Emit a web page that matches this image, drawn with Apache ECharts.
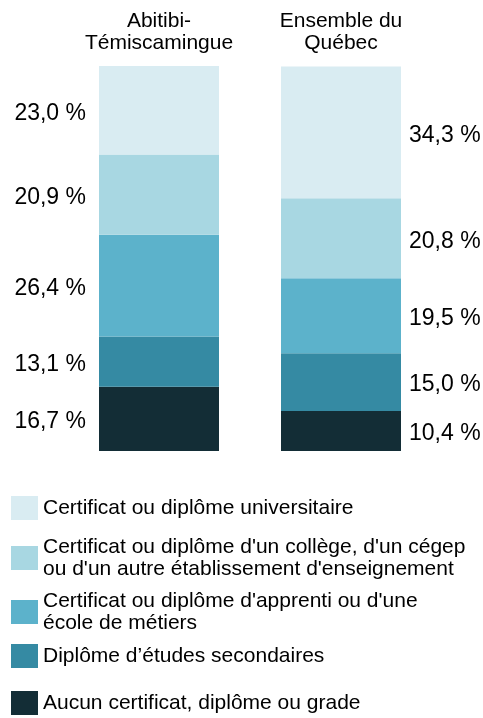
<!DOCTYPE html>
<html>
<head>
<meta charset="utf-8">
<script src="https://cdn.jsdelivr.net/npm/echarts@6/dist/echarts.min.js"></script>
<style>
  html, body { margin: 0; padding: 0; background: #fff; }
  #main { width: 483px; height: 718px; }
</style>
</head>
<body>
<div id="main"></div>
<script>
// régions comparées
var regions = ['Abitibi-\nTémiscamingue', 'Ensemble du\nQuébec'];

// niveaux de scolarité, du bas vers le haut de la pile
var niveaux = [
  'Aucun certificat, diplôme ou grade',
  'Diplôme d’études secondaires',
  "Certificat ou diplôme d'apprenti ou d'une école de métiers",
  "Certificat ou diplôme d'un collège, d'un cégep ou d'un autre établissement d'enseignement",
  'Certificat ou diplôme universitaire'
];
var niveauxLegende = [
  'Aucun certificat, diplôme ou grade',
  'Diplôme d’études secondaires',
  "Certificat ou diplôme d'apprenti ou d'une\nécole de métiers",
  "Certificat ou diplôme d'un collège, d'un cégep\nou d'un autre établissement d'enseignement",
  'Certificat ou diplôme universitaire'
];

// pourcentages [Abitibi-Témiscamingue, Ensemble du Québec]
var aucun = [16.7, 10.4];
var secondaire = [13.1, 15.0];
var apprenti = [26.4, 19.5];
var college = [20.9, 20.8];
var universitaire = [23.0, 34.3];

var valeurs = [aucun, secondaire, apprenti, college, universitaire];
var couleurs = ['#132d36', '#358aa3', '#5cb2cb', '#a8d7e2', '#d9ecf2'];

var police = 'Liberation Sans, Arial, sans-serif';

function pct(v) {
  return v.toFixed(1).replace('.', ',') + ' %';
}

var series = niveaux.map(function (nom, i) {
  return {
    name: nom,
    type: 'bar',
    stack: 'total',
    barWidth: 120,
    itemStyle: { color: couleurs[i] },
    data: valeurs[i].map(function (v, j) {
      return {
        value: v,
        label: {
          show: true,
          position: j === 0 ? 'left' : 'right',
          distance: j === 0 ? 13 : 8,
          offset: [0, 3],
          formatter: function (p) { return pct(p.value); },
          color: '#000',
          fontSize: 23,
          fontFamily: police
        }
      };
    })
  };
});

// une légende par élément, du haut vers le bas
var legendTops = [496, 536, 590, 644, 691];
var legends = [4, 3, 2, 1, 0].map(function (i, k) {
  return {
    data: [niveaux[i]],
    left: 11,
    top: legendTops[k],
    padding: 0,
    icon: 'rect',
    itemWidth: 27,
    itemHeight: 24,
    selectedMode: false,
    formatter: function () { return niveauxLegende[i]; },
    textStyle: { fontSize: 21, lineHeight: 22, color: '#000', fontFamily: police }
  };
});

var myChart = echarts.init(document.getElementById('main'));
myChart.setOption({
  animation: false,
  backgroundColor: '#fff',
  grid: { left: 68, width: 364, top: 66, height: 385 },
  xAxis: {
    type: 'category',
    position: 'top',
    data: regions,
    axisLine: { show: false },
    axisTick: { show: false },
    axisLabel: {
      interval: 0,
      margin: 12,
      fontSize: 21,
      lineHeight: 22,
      color: '#000',
      fontFamily: police
    }
  },
  yAxis: {
    type: 'value',
    min: 0,
    max: 100.1,
    show: false
  },
  legend: legends,
  series: series
});
</script>
</body>
</html>
